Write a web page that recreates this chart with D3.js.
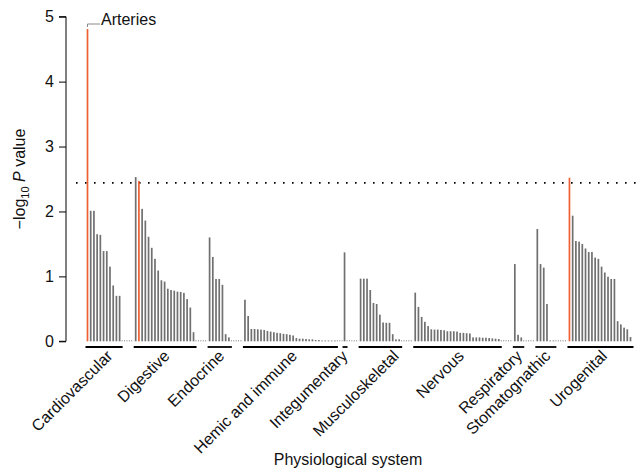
<!DOCTYPE html>
<html><head><meta charset="utf-8">
<script src="https://cdn.jsdelivr.net/npm/d3@7"></script>
<style>
body{margin:0;background:#fff}
svg{display:block;font-family:"Liberation Sans",Arial,Helvetica,sans-serif}
</style>
</head><body>
<svg id="chart" width="640" height="471"></svg>
<script>
// ---------------- data ----------------
const systems = ["Cardiovascular","Digestive","Endocrine","Hemic and immune","Integumentary",
  "Musculoskeletal","Nervous","Respiratory","Stomatognathic","Urogenital"];
const cardiovascular = [4.81,2.01,2.01,1.65,1.64,1.39,1.39,1.15,0.86,0.70,0.70];
const digestive = [2.53,2.47,2.04,1.86,1.61,1.44,1.27,1.09,0.94,0.92,0.81,0.79,0.78,0.765,0.76,0.745,0.65,0.52,0.14];
const endocrine = [1.60,1.30,0.96,0.96,0.87,0.11,0.06];
const hemicImmune = [0.64,0.39,0.19,0.19,0.185,0.18,0.175,0.16,0.15,0.14,0.13,0.125,0.115,0.11,0.10,0.09,0.05,0.04,0.04,0.035,0.03,0.03,0.02,0.02,0.01,0.01,0.01,0.01,0.01];
const integumentary = [1.37];
const musculoskeletal = [0.965,0.965,0.965,0.79,0.59,0.575,0.41,0.29,0.285,0.285,0.11,0.03,0.03];
const nervous = [0.75,0.53,0.375,0.30,0.235,0.185,0.18,0.18,0.175,0.17,0.155,0.155,0.155,0.15,0.13,0.13,0.125,0.12,0.06,0.06,0.06,0.055,0.055,0.05,0.045,0.04,0.035];
const respiratory = [1.19,0.10,0.06];
const stomatognathic = [1.73,1.19,1.135,0.575,0.01,0.01];
const urogenital = [2.52,1.935,1.545,1.535,1.50,1.43,1.375,1.375,1.29,1.27,1.15,1.06,0.995,0.96,0.96,0.31,0.26,0.21,0.185,0.066];
const seriesBySystem = [cardiovascular,digestive,endocrine,hemicImmune,integumentary,
  musculoskeletal,nervous,respiratory,stomatognathic,urogenital];
const highlighted = [["Cardiovascular",0],["Digestive",1],["Urogenital",0]];
const threshold = 2.44;
const yTicks = [0,1,2,3,4,5];
const annotation = {system:"Cardiovascular", index:0, label:"Arteries"};
const xTitle = "Physiological system";

// ---------------- layout ----------------
const gapSlots = [0,4,4,4,2,4,4,4,4,4];
const labelShift = [10,6,6,8,4,20,8,5,6,8];
const items = [], groups = [];
let slot = 0;
systems.forEach((s,gi)=>{
  slot += gapSlots[gi];
  const start = slot;
  seriesBySystem[gi].forEach((v,i)=>{
    items.push({system:s, i, v, slot,
      hl: highlighted.some(h=>h[0]===s && h[1]===i)});
    slot++;
  });
  groups.push({name:s, start, end:slot-1, shift:labelShift[gi]});
});
const nSlots = slot;

const svg = d3.select("#chart");
const x = d3.scaleLinear().domain([0,nSlots-1]).range([87.5,630.5]);
const y = d3.scaleLinear().domain([0,5]).range([341.3,16.7]);
const FS = 16;

// threshold dotted line
svg.append("line")
  .attr("x1",76).attr("x2",637)
  .attr("y1",y(threshold)).attr("y2",y(threshold))
  .attr("stroke","#000").attr("stroke-width",1.6)
  .attr("stroke-dasharray","1.6,7.4");

// dotted baseline between groups
for(let g=1; g<groups.length; g++){
  svg.append("line")
    .attr("x1",x(groups[g-1].end)+2).attr("x2",x(groups[g].start)-2)
    .attr("y1",y(0)-0.5).attr("y2",y(0)-0.5)
    .attr("stroke","#777").attr("stroke-width",1)
    .attr("stroke-dasharray","1,1.4");
}

// bars
svg.append("g").selectAll("rect").data(items).join("rect")
  .attr("x",d=>x(d.slot)-0.85)
  .attr("width",1.7)
  .attr("y",d=>Math.min(y(d.v), y(0)-0.8))
  .attr("height",d=>Math.max(y(0)-y(d.v),0.8))
  .attr("fill",d=>d.hl ? "#ee6033" : "#707070");

// group underlines
svg.append("g").selectAll("line").data(groups).join("line")
  .attr("x1",d=>x(d.start)-2).attr("x2",d=>x(d.end)+3)
  .attr("y1",347).attr("y2",347)
  .attr("stroke","#000").attr("stroke-width",1.8);

// group labels
svg.append("g").selectAll("text").data(groups).join("text")
  .attr("transform",d=>`translate(${(x(d.start)+x(d.end))/2+d.shift},357) rotate(-45)`)
  .attr("text-anchor","end")
  .attr("font-size",FS).attr("fill","#111")
  .text(d=>d.name);

// y axis
const yAxis = d3.axisLeft(y).tickValues(yTicks).tickSize(7).tickPadding(5).tickFormat(d3.format("d"));
const ga = svg.append("g").attr("transform","translate(66,0)").call(yAxis);
ga.select(".domain").attr("stroke","#000").attr("d",`M-7,${y(5)}H0V${y(0)}H-7`);
ga.selectAll("text").attr("font-size",FS).attr("fill","#111").attr("font-family",null);

// y title
const yt = svg.append("text")
  .attr("transform","translate(25,179) rotate(-90)")
  .attr("text-anchor","middle").attr("font-size",FS).attr("fill","#111");
yt.append("tspan").text("\u2212log");
yt.append("tspan").attr("font-size",11).attr("dy",4).text("10");
yt.append("tspan").attr("dy",-4).text(" ");
yt.append("tspan").attr("font-style","italic").text("P");
yt.append("tspan").text(" value");

// x title
svg.append("text").attr("x",348).attr("y",465)
  .attr("text-anchor","middle").attr("font-size",FS).attr("fill","#111").text(xTitle);

// annotation
const a = items.find(d=>d.system===annotation.system && d.i===annotation.index);
svg.append("path")
  .attr("d",`M${x(a.slot)},${y(a.v)-2}V24H100`)
  .attr("fill","none").attr("stroke","#888").attr("stroke-width",1);
svg.append("text").attr("x",101).attr("y",25).attr("font-size",FS).attr("fill","#111").text(annotation.label);
</script>
</body></html>
